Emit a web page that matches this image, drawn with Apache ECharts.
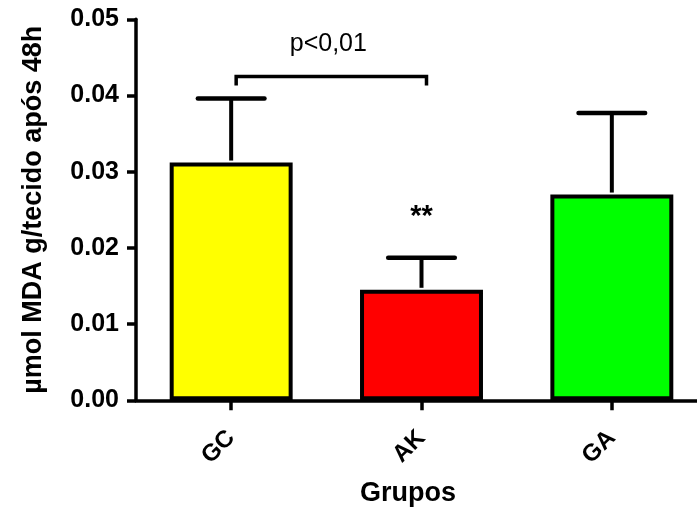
<!DOCTYPE html>
<html>
<head>
<meta charset="utf-8">
<script src="https://cdn.jsdelivr.net/npm/echarts@6/dist/echarts.min.js"></script>
<style>html,body{margin:0;padding:0;background:#fff;overflow:hidden}#c{width:707px;height:510px}</style>
</head>
<body>
<div id="c"></div>
<script>
// ---- data ----
const categories = ['GC', 'AK', 'GA'];
const means = [0.0312, 0.0145, 0.0270];
const upperErr = [0.0396, 0.0187, 0.0377];
const barColors = ['#FFFF00', '#FF0000', '#00FF00'];
const yTickValues = [0, 0.01, 0.02, 0.03, 0.04, 0.05];
const bracketPair = [0, 1];
const bracketLevels = [0.0425, 0.0413];   // top line, foot of verticals
const bracketText = 'p<0,01';
const bracketTextLevel = 0.0468;
const starText = '**';
const starIndex = 1;
const starLevel = 0.0240;

const FONT = '"Liberation Sans", Arial, sans-serif';
const chart = echarts.init(document.getElementById('c'), null, {renderer: 'canvas'});

const option = {
  animation: false,
  backgroundColor: '#fff',
  grid: {left: 136, right: 0, top: 19.3, bottom: 109.7, containLabel: false},
  xAxis: {
    type: 'category',
    data: categories,
    axisLine: {lineStyle: {color: '#000', width: 3.5}},
    axisTick: {show: true, alignWithLabel: true, length: 10, lineStyle: {color: '#000', width: 3.5}},
    axisLabel: {rotate: 45, margin: 34, fontSize: 24, fontWeight: 'bold', color: '#000', fontFamily: FONT},
    splitLine: {show: false}
  },
  yAxis: {
    type: 'value',
    min: 0, max: 0.05, interval: 0.01,
    axisLine: {show: true, lineStyle: {color: '#000', width: 3.5}},
    axisTick: {show: true, length: 9, lineStyle: {color: '#000', width: 3.5}},
    axisLabel: {
      margin: 17, fontSize: 25, fontWeight: 'bold', color: '#000', fontFamily: FONT,
      formatter: v => {
        const t = yTickValues.find(x => Math.abs(x - v) < 1e-9);
        return (t === undefined ? v : t).toFixed(2);
      }
    },
    splitLine: {show: false},
    name: 'µmol MDA g/tecido após 48h',
    nameLocation: 'middle',
    nameGap: 89,
    nameTextStyle: {fontSize: 27, fontWeight: 'bold', color: '#000', fontFamily: FONT}
  },
  graphic: [{
    type: 'text', x: 408, y: 494,
    style: {text: 'Grupos', fontSize: 27, fontWeight: 'bold', fill: '#000', fontFamily: FONT,
            align: 'center', verticalAlign: 'middle'}
  }],
  series: [
    {
      type: 'bar',
      barWidth: '64.6%',
      data: means.map((v, i) => ({value: v, itemStyle: {color: barColors[i]}})),
      itemStyle: {borderColor: '#000', borderWidth: 4},
      z: 2
    },
    {
      type: 'custom',
      z: 3,
      clip: false,
      data: categories.map((c, i) => [i, means[i], upperErr[i]]),
      encode: {x: 0, y: 2},
      renderItem: (params, api) => {
        const i = api.value(0);
        const base = api.coord([i, api.value(1)]);
        const top = api.coord([i, api.value(2)]);
        const hw = api.size([1, 0])[0] * 0.175;
        return {
          type: 'group',
          children: [
            {type: 'line', shape: {x1: base[0], y1: base[1] - 2, x2: top[0], y2: top[1]},
             style: {stroke: '#000', lineWidth: 4}},
            {type: 'line', shape: {x1: top[0] - hw, y1: top[1], x2: top[0] + hw, y2: top[1]},
             style: {stroke: '#000', lineWidth: 4.5, lineCap: 'round'}}
          ]
        };
      }
    },
    {
      type: 'custom',
      z: 4,
      clip: false,
      data: [[bracketPair[0], bracketPair[1], bracketLevels[0], bracketLevels[1], bracketTextLevel]],
      encode: {x: 0, y: 2},
      renderItem: (params, api) => {
        const a = api.value(0), b = api.value(1);
        const pA = api.coord([a, api.value(2)]);
        const pB = api.coord([b, api.value(2)]);
        const fA = api.coord([a, api.value(3)]);
        const fB = api.coord([b, api.value(3)]);
        const ty = api.coord([a, api.value(4)])[1];
        const st = api.coord([starIndex, starLevel]);
        const dx = 5;
        return {
          type: 'group',
          children: [
            {type: 'polyline',
             shape: {points: [[fA[0] + dx, fA[1]], [pA[0] + dx, pA[1]], [pB[0] + dx, pB[1]], [fB[0] + dx, fB[1]]]},
             style: {stroke: '#000', lineWidth: 3.5, fill: null}},
            {type: 'text', x: (pA[0] + pB[0]) / 2 + 2, y: ty,
             style: {text: bracketText, fontSize: 25, fill: '#000', fontFamily: FONT, align: 'center', verticalAlign: 'middle'}},
            {type: 'text', x: st[0], y: st[1],
             style: {text: starText, fontSize: 29, fontWeight: 'bold', fill: '#000', fontFamily: FONT, align: 'center', verticalAlign: 'middle'}}
          ]
        };
      }
    }
  ]
};
chart.setOption(option);
</script>
</body>
</html>
